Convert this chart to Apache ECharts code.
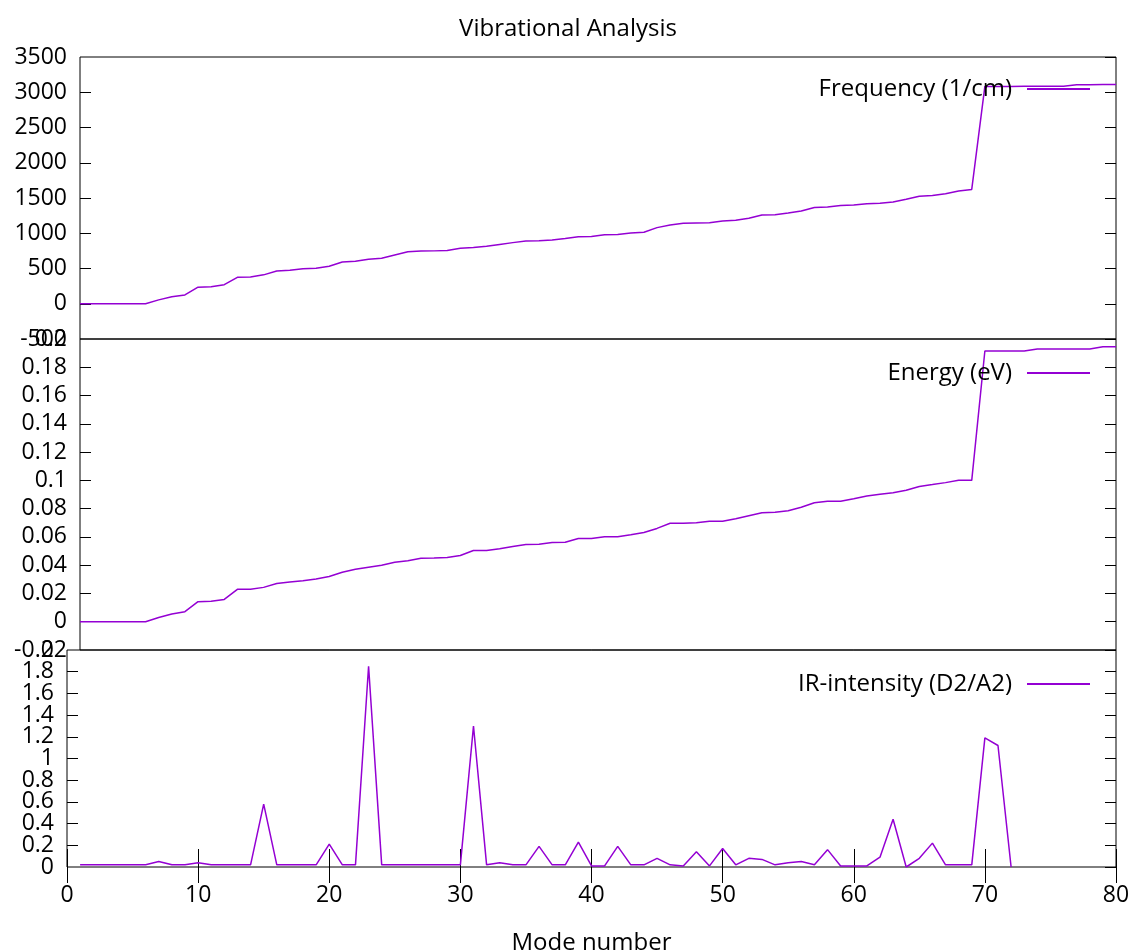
<!DOCTYPE html>
<html>
<head>
<meta charset="utf-8">
<title>Vibrational Analysis</title>
<script src="https://cdn.jsdelivr.net/npm/echarts@6/dist/echarts.min.js"></script>
<style>
    html,body{margin:0;padding:0;background:#fff;}
    #demo{width:1136px;height:952px;}
</style>
</head>
<body>
<div id="demo"></div>
<script>
// mode 1..80
var frequency = [
    0, 0, 0, 0, 0, 0, 55, 100, 125, 235,
    240, 270, 375, 380, 410, 465, 475, 495, 505, 532,
    592, 602, 632, 645, 692, 737, 748, 750, 755, 788,
    797, 817, 842, 867, 890, 895, 905, 925, 950, 955,
    978, 982, 1002, 1015, 1080, 1118, 1143, 1147, 1150, 1173,
    1183, 1212, 1258, 1262, 1286, 1316, 1366, 1372, 1395, 1402,
    1420, 1426, 1443, 1481, 1525, 1535, 1560, 1600, 1621, 3083,
    3083, 3083, 3084, 3085, 3085, 3086, 3107, 3108, 3110, 3110
];
var energy = [
    0, 0, 0, 0, 0, 0, 0.003, 0.0055, 0.0071, 0.0142,
    0.0145, 0.0158, 0.0229, 0.023, 0.0243, 0.027, 0.0281, 0.029, 0.0303, 0.032,
    0.035, 0.0371, 0.0385, 0.0399, 0.042, 0.0432, 0.0449, 0.045, 0.0455, 0.0468,
    0.0504, 0.0504, 0.0516, 0.0532, 0.0546, 0.0548, 0.056, 0.0562, 0.0589, 0.0589,
    0.0601, 0.0601, 0.0615, 0.0631, 0.066, 0.0697, 0.0697, 0.07, 0.0711, 0.0711,
    0.0728, 0.075, 0.0771, 0.0775, 0.0785, 0.081, 0.0842, 0.0853, 0.0853, 0.087,
    0.0889, 0.0901, 0.0913, 0.093, 0.0957, 0.097, 0.0984, 0.1, 0.1, 0.1915,
    0.1915, 0.1915, 0.1915, 0.1929, 0.1929, 0.1929, 0.1929, 0.193, 0.1945, 0.1945
];
// mode 1..72
var irIntensity = [
    0.02, 0.02, 0.02, 0.02, 0.02, 0.02, 0.05, 0.02, 0.02, 0.04,
    0.02, 0.02, 0.02, 0.02, 0.58, 0.02, 0.02, 0.02, 0.02, 0.21,
    0.02, 0.02, 1.85, 0.02, 0.02, 0.02, 0.02, 0.02, 0.02, 0.02,
    1.3, 0.02, 0.04, 0.02, 0.02, 0.19, 0.02, 0.02, 0.23, 0.01,
    0.01, 0.19, 0.02, 0.02, 0.08, 0.02, 0.01, 0.14, 0.01, 0.17,
    0.02, 0.08, 0.07, 0.02, 0.04, 0.05, 0.02, 0.16, 0.01, 0.01,
    0.01, 0.09, 0.44, 0, 0.08, 0.22, 0.02, 0.02, 0.02, 1.19,
    1.12, 0
];
var seriesNames = ["Frequency (1/cm)", "Energy (eV)", "IR-intensity (D2/A2)"];
var xTicks = [0, 80, 10];
var freqTicks = [-500, 3500, 500];
var energyTicks = [-0.02, 0.2, 0.02];
var irTicks = [0, 2, 0.2];

var FONT = "Open Sans";
var LINE = "#9400d3";

function toPoints(arr){
    var out = [];
    for(var i = 0; i < arr.length; i++){
        out.push([i + 1, arr[i]]);
    }
    return out;
}
function fmt(v){
    return String(parseFloat(v.toFixed(4)));
}
function hiddenX(idx){
    return {
        gridIndex: idx, type: 'value', min: 1, max: 80,
        axisLine: {show: false}, axisTick: {show: false},
        axisLabel: {show: false}, splitLine: {show: false}
    };
}
function yLabelStyle(){
    return {show: true, margin: 13, color: '#000', fontSize: 23, fontFamily: FONT, formatter: fmt};
}
// left axis with ticks + inner labels, a twin left axis carrying only the end labels
// (labels are packed tight, so echarts would otherwise drop some), and a mirrored right axis
function yAxesFor(idx, t){
    var inner = yLabelStyle();
    inner.showMinLabel = false;
    inner.showMaxLabel = false;
    var ends = yLabelStyle();
    ends.customValues = [t[0], t[1]];
    var tick = {show: true, inside: true, length: 11, lineStyle: {color: '#000', width: 1}};
    return [
        {
            gridIndex: idx, type: 'value', min: t[0], max: t[1], interval: t[2], position: 'left',
            axisLine: {show: false}, axisTick: tick, axisLabel: inner, splitLine: {show: false}
        },
        {
            gridIndex: idx, type: 'value', min: t[0], max: t[1], interval: t[2], position: 'left', offset: 0,
            axisLine: {show: false}, axisTick: {show: false}, axisLabel: ends, splitLine: {show: false}
        },
        {
            gridIndex: idx, type: 'value', min: t[0], max: t[1], interval: t[2], position: 'right',
            axisLine: {show: false}, axisTick: tick, axisLabel: {show: false}, splitLine: {show: false}
        }
    ];
}
function legendFor(name, top){
    return {
        data: [name], right: 46, top: top, padding: 0,
        align: 'right', icon: 'rect', itemWidth: 63, itemHeight: 2,
        selectedMode: false,
        textStyle: {fontSize: 24, fontFamily: FONT, color: '#000', padding: [0, 10, 0, 0]}
    };
}
function lineSeries(name, xi, yi, arr){
    return {
        name: name, type: 'line', xAxisIndex: xi, yAxisIndex: yi,
        data: toPoints(arr), symbol: 'none', showSymbol: false,
        lineStyle: {color: LINE, width: 1.5},
        itemStyle: {color: LINE}
    };
}

var gridBox = {show: true, borderColor: '#000', borderWidth: 1, backgroundColor: 'transparent', outerBoundsMode: 'none'};
var yAxes = [].concat(yAxesFor(0, freqTicks), yAxesFor(1, energyTicks), yAxesFor(2, irTicks));

var option = {
    animation: false,
    backgroundColor: '#fff',
    title: {
        text: 'Vibrational Analysis', left: 'center', top: 12,
        textStyle: {fontSize: 24, fontWeight: 'normal', fontFamily: FONT, color: '#000'}
    },
    legend: [
        legendFor(seriesNames[0], 77),
        legendFor(seriesNames[1], 361),
        legendFor(seriesNames[2], 672)
    ],
    grid: [
        Object.assign({left: 80, right: 20, top: 57, height: 282}, gridBox),
        Object.assign({left: 80, right: 20, top: 339, height: 311}, gridBox),
        Object.assign({left: 67, right: 20, top: 650, height: 217}, gridBox)
    ],
    xAxis: [
        hiddenX(0),
        hiddenX(1),
        {
            gridIndex: 2, type: 'value', min: xTicks[0], max: xTicks[1], interval: xTicks[2],
            position: 'bottom',
            axisLine: {show: false},
            axisTick: {show: true, inside: true, length: 18, lineStyle: {color: '#000', width: 1}},
            axisLabel: {show: true, margin: 17, color: '#000', fontSize: 23, fontFamily: FONT},
            splitLine: {show: false},
            name: 'Mode number', nameLocation: 'middle', nameGap: 64,
            nameTextStyle: {fontSize: 24, fontFamily: FONT, color: '#000'}
        },
        {
            gridIndex: 2, type: 'value', min: xTicks[0], max: xTicks[1], interval: xTicks[2],
            position: 'top',
            axisLine: {show: false},
            axisTick: {show: true, inside: true, length: 16, lineStyle: {color: '#000', width: 1}},
            axisLabel: {show: false},
            splitLine: {show: false}
        }
    ],
    yAxis: yAxes,
    series: [
        lineSeries(seriesNames[0], 0, 0, frequency),
        lineSeries(seriesNames[1], 1, 3, energy),
        lineSeries(seriesNames[2], 2, 6, irIntensity)
    ]
};

var myChart = echarts.init(document.getElementById('demo'));
myChart.setOption(option, true);
</script>
</body>
</html>
